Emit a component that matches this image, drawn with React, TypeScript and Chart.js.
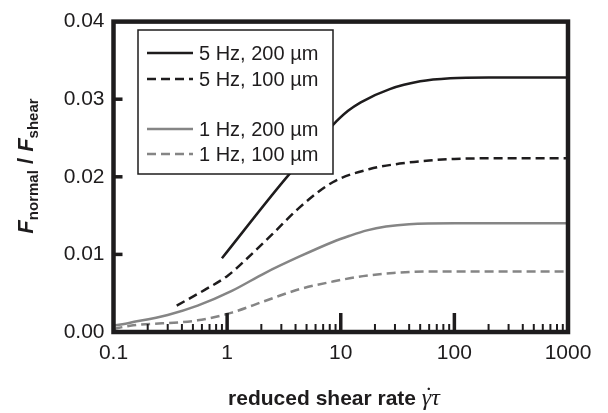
import { useEffect, useRef } from "react";
import { Chart, registerables } from "chart.js";

Chart.register(...registerables);

// ---- data ----
const xTickValues = [0.1, 1, 10, 100, 1000];
const yTickValues = [0, 0.01, 0.02, 0.03, 0.04];

const x5Hz200 = [0.9, 3.24, 8.55, 11.6, 15, 27, 50, 92, 200, 1000];
const y5Hz200 = [0.0095, 0.0197, 0.0267, 0.0285, 0.0296, 0.0313, 0.0323, 0.0327, 0.0328, 0.0328];

const x5Hz100 = [0.36, 0.63, 1, 1.43, 2.5, 4.3, 8.5, 18, 33, 60, 100, 300, 1000];
const y5Hz100 = [0.0034, 0.0054, 0.0072, 0.0092, 0.0126, 0.0160, 0.0193, 0.0210, 0.0217, 0.0221, 0.0223, 0.0224, 0.0224];

const x1Hz200 = [0.1, 0.14, 0.3, 0.55, 1.1, 2.15, 4.3, 8.5, 12, 17, 25, 40, 100, 1000];
const y1Hz200 = [0.0008, 0.0012, 0.0022, 0.0034, 0.0053, 0.0076, 0.0097, 0.0116, 0.0124, 0.0131, 0.0136, 0.0139, 0.0140, 0.0140];

const x1Hz100 = [0.1, 0.14, 0.55, 1.1, 2.15, 4.3, 8.5, 15.7, 29, 60, 1000];
const y1Hz100 = [0.0004, 0.0008, 0.0015, 0.0025, 0.0040, 0.0055, 0.0065, 0.0072, 0.0076, 0.0078, 0.0078];

const seriesLabels = ["5 Hz, 200 \u00b5m", "5 Hz, 100 \u00b5m", "1 Hz, 200 \u00b5m", "1 Hz, 100 \u00b5m"];

const BLACK = "#1e1c1d";
const GRAY = "#858585";
const DASH = [9, 5];
const SANS = "'Liberation Sans', Arial, sans-serif";
const SERIF = "'Liberation Serif', 'Times New Roman', serif";

function pts(xs: number[], ys: number[]) {
  return xs.map((x, i) => ({ x, y: ys[i] }));
}

const decorPlugin = {
  id: "decor",
  afterDatasetsDraw(chart: any) {
    const ctx: CanvasRenderingContext2D = chart.ctx;
    const { left, right, top, bottom } = chart.chartArea;
    const xs = chart.scales.x;
    const ys = chart.scales.y;

    ctx.save();
    // inward ticks on x axis
    ctx.strokeStyle = BLACK;
    ctx.lineCap = "butt";
    for (let e = -1; e < 3; e++) {
      for (let m = 2; m <= 9; m++) {
        const v = m * Math.pow(10, e);
        const px = xs.getPixelForValue(v);
        ctx.lineWidth = 2;
        ctx.beginPath();
        ctx.moveTo(px, bottom);
        ctx.lineTo(px, bottom - 8);
        ctx.stroke();
      }
    }
    xTickValues.slice(1, -1).forEach((v) => {
      const px = xs.getPixelForValue(v);
      ctx.lineWidth = 3.5;
      ctx.beginPath();
      ctx.moveTo(px, bottom);
      ctx.lineTo(px, bottom - 19);
      ctx.stroke();
    });
    // inward ticks on y axis
    yTickValues.slice(1, -1).forEach((v) => {
      const py = ys.getPixelForValue(v);
      ctx.lineWidth = 3.5;
      ctx.beginPath();
      ctx.moveTo(left, py);
      ctx.lineTo(left + 9, py);
      ctx.stroke();
    });
    // frame
    ctx.lineWidth = 4.5;
    ctx.lineJoin = "miter";
    ctx.strokeRect(left, top, right - left, bottom - top);

    // legend
    const lx = 138, ly = 30, lw = 195, lh = 144;
    ctx.fillStyle = "#ffffff";
    ctx.fillRect(lx, ly, lw, lh);
    ctx.lineWidth = 1.5;
    ctx.strokeStyle = BLACK;
    ctx.strokeRect(lx, ly, lw, lh);
    const rows = [53, 79, 129, 154];
    chart.data.datasets.forEach((ds: any, i: number) => {
      const y = rows[i];
      ctx.strokeStyle = ds.borderColor;
      ctx.lineWidth = ds.borderWidth;
      ctx.setLineDash(ds.borderDash || []);
      ctx.beginPath();
      ctx.moveTo(147, y);
      ctx.lineTo(193, y);
      ctx.stroke();
      ctx.setLineDash([]);
      ctx.fillStyle = BLACK;
      ctx.font = `20px ${SANS}`;
      ctx.textAlign = "left";
      ctx.textBaseline = "middle";
      ctx.fillText(ds.label, 199, y + 1);
    });

    // x axis title
    ctx.fillStyle = BLACK;
    ctx.textBaseline = "alphabetic";
    const t1 = "reduced shear rate ";
    ctx.font = `bold 21px ${SANS}`;
    const w1 = ctx.measureText(t1).width;
    ctx.font = `italic 24px ${SERIF}`;
    const wg = ctx.measureText("\u03b3").width;
    const wt = ctx.measureText("\u03c4").width;
    const total = w1 + wg + wt;
    let cx = 334 - total / 2;
    const by = 405;
    ctx.textAlign = "left";
    ctx.font = `bold 21px ${SANS}`;
    ctx.fillText(t1, cx, by);
    cx += w1;
    ctx.font = `italic 24px ${SERIF}`;
    ctx.fillText("\u03b3", cx, by);
    ctx.font = `24px ${SERIF}`;
    ctx.fillText("\u02d9", cx + 3, by - 2);
    ctx.font = `italic 24px ${SERIF}`;
    ctx.fillText("\u03c4", cx + wg, by);

    // y axis title (rotated)
    const parts = [
      { t: "F", f: `italic bold 22px ${SANS}`, dy: 0 },
      { t: "normal", f: `bold 15px ${SANS}`, dy: 5 },
      { t: " / ", f: `bold 22px ${SANS}`, dy: 0 },
      { t: "F", f: `italic bold 22px ${SANS}`, dy: 0 },
      { t: "shear", f: `bold 15px ${SANS}`, dy: 5 },
    ];
    let tw = 0;
    parts.forEach((p) => {
      ctx.font = p.f;
      tw += ctx.measureText(p.t).width;
    });
    ctx.translate(33, 166 + tw / 2);
    ctx.rotate(-Math.PI / 2);
    let px = 0;
    parts.forEach((p) => {
      ctx.font = p.f;
      ctx.fillText(p.t, px, p.dy);
      px += ctx.measureText(p.t).width;
    });
    ctx.restore();
  },
};

export default function App() {
  const ref = useRef<HTMLCanvasElement | null>(null);

  useEffect(() => {
    document.body.style.margin = "0";
    const canvas = ref.current;
    if (!canvas) return;
    Chart.defaults.font.family = SANS;
    const chart = new Chart(canvas, {
      type: "line",
      data: {
        datasets: [
          { label: seriesLabels[0], data: pts(x5Hz200, y5Hz200), borderColor: BLACK, borderWidth: 2.5, borderDash: [] },
          { label: seriesLabels[1], data: pts(x5Hz100, y5Hz100), borderColor: BLACK, borderWidth: 2.5, borderDash: DASH },
          { label: seriesLabels[2], data: pts(x1Hz200, y1Hz200), borderColor: GRAY, borderWidth: 2.5, borderDash: [] },
          { label: seriesLabels[3], data: pts(x1Hz100, y1Hz100), borderColor: GRAY, borderWidth: 2.5, borderDash: DASH },
        ] as any,
      },
      options: {
        animation: false,
        responsive: false,
        elements: {
          point: { radius: 0, hoverRadius: 0 },
          line: { cubicInterpolationMode: "monotone", fill: false },
        },
        layout: { padding: { left: 0, top: 13.5, right: 40, bottom: 0 } },
        plugins: { legend: { display: false }, tooltip: { enabled: false } },
        scales: {
          x: {
            type: "logarithmic",
            min: 0.1,
            max: 1000,
            grid: { display: false, drawTicks: false },
            border: { display: false },
            afterBuildTicks: (s: any) => {
              s.ticks = xTickValues.map((v) => ({ value: v, major: true }));
            },
            afterFit: (s: any) => {
              s.height = 81;
            },
            ticks: {
              autoSkip: false,
              maxRotation: 0,
              padding: 9,
              color: BLACK,
              font: { size: 21 },
              callback: (v: any) => String(v),
            },
          },
          y: {
            type: "linear",
            min: 0,
            max: 0.04,
            grid: { display: false, drawTicks: false },
            border: { display: false },
            afterBuildTicks: (s: any) => {
              s.ticks = yTickValues.map((v) => ({ value: v }));
            },
            afterFit: (s: any) => {
              s.width = 113.5;
            },
            ticks: {
              padding: 9,
              color: BLACK,
              font: { size: 21 },
              callback: (v: any) => Number(v).toFixed(2),
            },
          },
        },
      },
      plugins: [decorPlugin],
    });
    return () => chart.destroy();
  }, []);

  return (
    <div style={{ width: 608, height: 413, position: "relative" }}>
      <canvas ref={ref} width={608} height={413} />
    </div>
  );
}
